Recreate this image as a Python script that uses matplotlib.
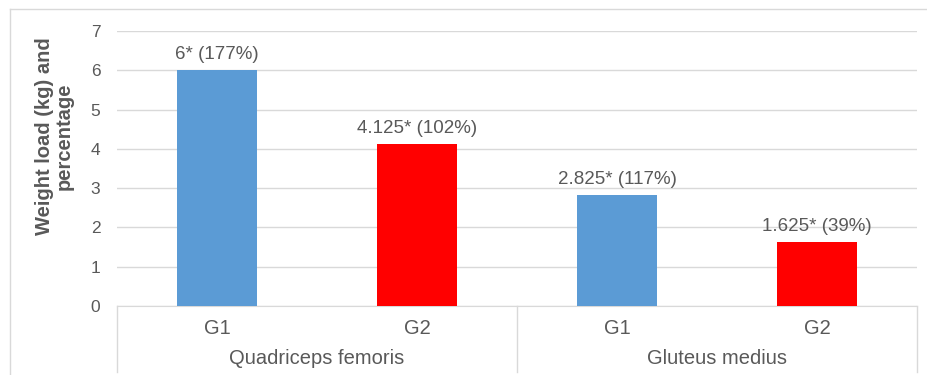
import matplotlib.pyplot as plt
from matplotlib.lines import Line2D

# data
muscles = ["Quadriceps femoris", "Gluteus medius"]
groups = ["G1", "G2", "G1", "G2"]
values = [6, 4.125, 2.825, 1.625]
bar_labels = ["6* (177%)", "4.125* (102%)", "2.825* (117%)", "1.625* (39%)"]
group_colors = {"G1": "#5B9BD5", "G2": "#FF0000"}

plt.rcParams['font.family'] = ['Liberation Sans', 'DejaVu Sans']
text_color = "#595959"
grid_color = "#D9D9D9"

fig = plt.figure(figsize=(9.28, 3.75), dpi=100)
ax = fig.add_axes([117 / 928, 1 - 306 / 375, 800 / 928, 275 / 375])

x = list(range(len(values)))
bars = ax.bar(x, values, width=0.4, color=[group_colors[g] for g in groups], zorder=3)

# value labels above the bars
for rect, lab in zip(bars, bar_labels):
    ax.annotate(lab, (rect.get_x() + rect.get_width() / 2, rect.get_height()),
                xytext=(0, 5), textcoords="offset points", ha="center", va="bottom",
                fontsize=13.5, color=text_color)

ax.set_xlim(-0.5, len(values) - 0.5)
ax.set_ylim(0, 7)
ax.set_yticks(range(0, 8))
ax.yaxis.grid(True, color=grid_color, linewidth=1)
ax.set_axisbelow(True)
ax.tick_params(axis="y", length=0, labelsize=12.5, labelcolor=text_color, pad=12)
ax.set_xticks([])
for side in ["top", "right", "left"]:
    ax.spines[side].set_visible(False)
ax.spines["bottom"].set_color(grid_color)

# two-level category axis
trans = ax.get_xaxis_transform()
for xi, g in zip(x, groups):
    ax.text(xi, -0.08, g, transform=trans, ha="center", va="center",
            fontsize=14.5, color=text_color)
n_per = len(groups) // len(muscles)
for i, m in enumerate(muscles):
    center = i * n_per + (n_per - 1) / 2
    ax.text(center, -0.19, m, transform=trans, ha="center", va="center",
            fontsize=14.5, color=text_color)
for i in range(len(muscles) + 1):
    xd = i * n_per - 0.5
    ax.plot([xd, xd], [0, -0.24], transform=trans, color=grid_color,
            linewidth=1, clip_on=False)

fig.text(54 / 928, 1 - 136 / 375, "Weight load (kg) and\npercentage", rotation=90,
         ha="center", va="center", multialignment="center", linespacing=1.05,
         fontsize=14.5, fontweight="bold", color=text_color)

# chart border (right/bottom edges fall outside the crop)
fig.add_artist(Line2D([10 / 928, 10 / 928], [0, 1 - 9 / 375], color=grid_color,
                      linewidth=1, transform=fig.transFigure))
fig.add_artist(Line2D([10 / 928, 1], [1 - 9 / 375, 1 - 9 / 375], color=grid_color,
                      linewidth=1, transform=fig.transFigure))

fig.savefig("out.png", dpi=100)
